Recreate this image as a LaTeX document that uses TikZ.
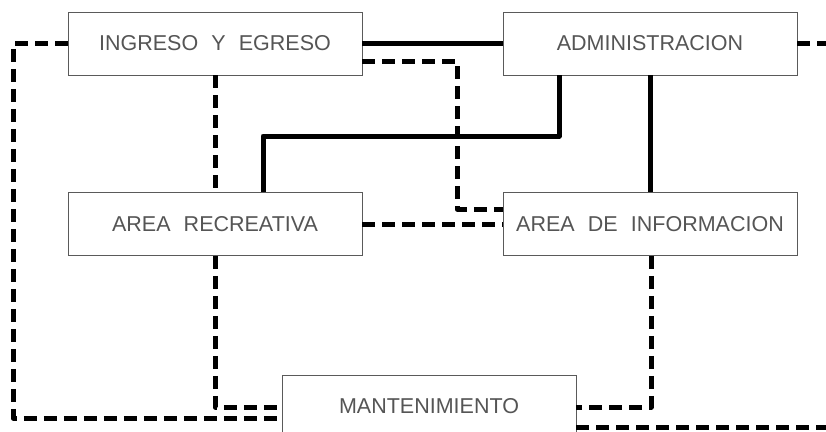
\documentclass[tikz,border=0pt]{standalone}
\usepackage{fontspec}
\newfontfamily\cadfont[WordSpace=2.2]{Liberation Sans}
\definecolor{boxline}{RGB}{90,90,90}
\definecolor{txtgray}{RGB}{85,85,85}
\tikzset{
  room/.style={draw=boxline, line width=0.9pt, minimum width=294pt, minimum height=63pt,
    inner sep=0pt, font=\cadfont\fontsize{21.5}{24}\selectfont, text=txtgray},
  solidlink/.style={line width=5pt, line join=round},
  dashlink/.style={line width=5pt, line join=round, dash pattern=on 13pt off 7pt}
}
\begin{document}
\begin{tikzpicture}[x=1pt,y=-1pt]
\clip (0,0) rectangle (826,431);
\fill[white] (0,0) rectangle (826,431);
\node[room] (ing) at (215,43.5) {INGRESO Y EGRESO};
\node[room] (adm) at (650,43.5) {ADMINISTRACION};
\node[room] (rec) at (215,224) {AREA RECREATIVA};
\node[room] (inf) at (650,224) {AREA DE INFORMACION};
\node[room] (mnt) at (429,406.5) {MANTENIMIENTO};
% corner coordinates
\coordinate (c2a) at (559,136);
\coordinate (c2b) at (263,136);
\coordinate (c4a) at (13,43.5);
\coordinate (c4b) at (13,418);
\coordinate (c5a) at (457,61);
\coordinate (c5b) at (457,209);
\coordinate (c8) at (215,407);
\coordinate (c9) at (651,407);
\coordinate (c10) at (830,427);
\coordinate (c11) at (830,43.5);
% solid links
\draw[solidlink] (ing.east) -- (adm.west);
\draw[solidlink] (adm.south -| c2a) -- (c2a) -- (c2b) -- (rec.north -| c2b);
\draw[solidlink] (adm.south) -- (inf.north);
% dashed links
\draw[dashlink] (ing.west) -- (c4a) -- (c4b) -- (mnt.west |- c4b);
\draw[dashlink] (ing.east |- c5a) -- (c5a) -- (c5b) -- (inf.west |- c5b);
\draw[dashlink] (ing.south) -- (rec.north);
\draw[dashlink] (rec.east) -- (inf.west);
\draw[dashlink] (rec.south) -- (c8) -- (mnt.west |- c8);
\draw[dashlink] (inf.south -| c9) -- (c9) -- (mnt.east |- c9);
\draw[dashlink] (mnt.east |- c10) -- (c10);
\draw[dashlink] (adm.east) -- (c11);
\end{tikzpicture}
\end{document}
